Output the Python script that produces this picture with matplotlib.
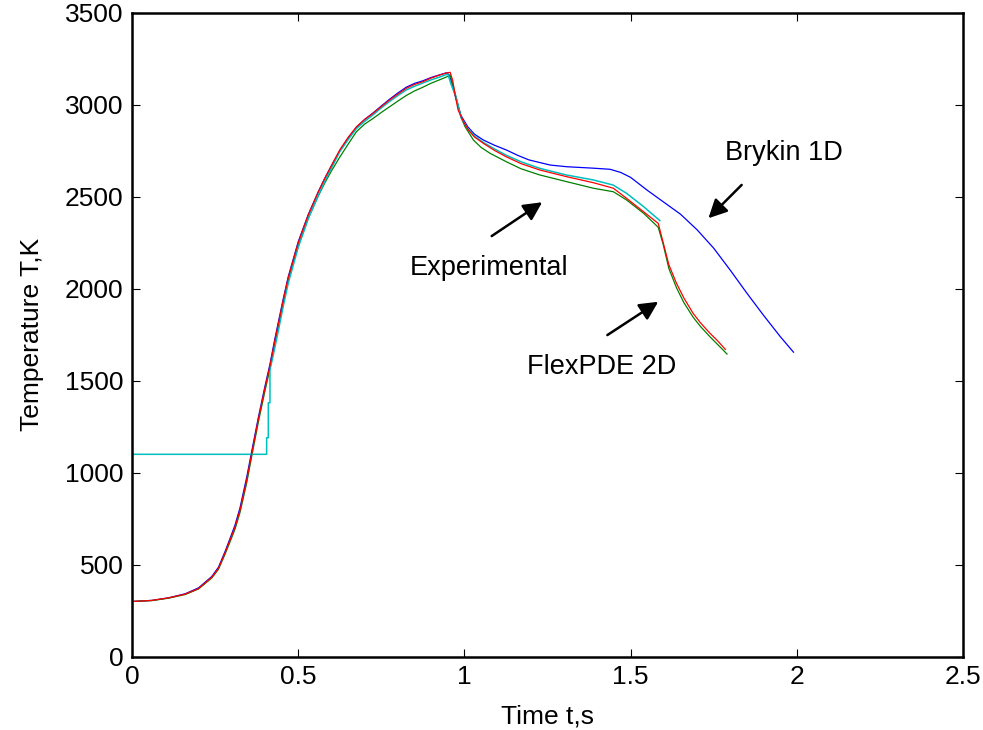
import matplotlib
matplotlib.use("Agg")
import matplotlib.pyplot as plt
import numpy as np

plt.rcParams['font.family'] = ['Liberation Sans', 'DejaVu Sans']

# ---- data ----
red_t = [0, 0.06, 0.11, 0.16, 0.20, 0.24, 0.26, 0.28, 0.295, 0.31, 0.325, 0.345, 0.36,
         0.38, 0.40, 0.415, 0.43, 0.455, 0.47, 0.50, 0.53, 0.56, 0.58, 0.60,
         0.625, 0.65, 0.675, 0.70, 0.725, 0.75, 0.775, 0.80, 0.825, 0.85, 0.875, 0.90,
         0.925, 0.945, 0.957, 0.965, 0.971, 0.981, 0.997, 1.012, 1.03, 1.057, 1.09, 1.126,
         1.17, 1.227, 1.307, 1.388, 1.448, 1.488, 1.539, 1.583, 1.598, 1.615, 1.638,
         1.66, 1.688, 1.71, 1.738, 1.76, 1.785]
red_T = [300, 306, 320, 340, 370, 432, 480, 565, 634, 705, 797, 960, 1102,
         1290, 1460, 1580, 1720, 1938, 2060, 2250, 2400, 2525, 2600, 2670,
         2754, 2822, 2880, 2920, 2953, 2990, 3026, 3058, 3089, 3110, 3125, 3145,
         3161, 3172, 3176, 3130, 3062, 2971, 2908, 2862, 2825, 2790, 2752, 2717,
         2680, 2645, 2609, 2576, 2546, 2491, 2418, 2355, 2250, 2130, 2029,
         1950, 1866, 1815, 1759, 1720, 1670]

blue_t = [0, 0.06, 0.11, 0.16, 0.20, 0.24, 0.26, 0.28, 0.295, 0.31, 0.325, 0.345, 0.36,
          0.38, 0.40, 0.415, 0.43, 0.455, 0.47, 0.50, 0.53, 0.56, 0.58, 0.60,
          0.625, 0.65, 0.675, 0.70, 0.725, 0.75, 0.775, 0.80, 0.825, 0.85, 0.875, 0.90,
          0.925, 0.947, 0.955, 0.965, 0.975, 0.99, 1.01, 1.03, 1.057, 1.09, 1.126, 1.16,
          1.194, 1.258, 1.307, 1.388, 1.438, 1.47, 1.50, 1.55, 1.60, 1.65, 1.70, 1.75,
          1.80, 1.85, 1.90, 1.95, 1.99]
blue_T = [300, 306, 320, 342, 374, 436, 486, 572, 643, 716, 810, 975, 1115,
          1300, 1470, 1590, 1730, 1945, 2065, 2255, 2402, 2525, 2600, 2668,
          2750, 2818, 2876, 2920, 2955, 2993, 3030, 3064, 3095, 3116, 3130, 3148,
          3162, 3174, 3160, 3100, 3030, 2940, 2880, 2840, 2808, 2780, 2754, 2725,
          2700, 2672, 2663, 2655, 2649, 2632, 2605, 2535, 2470, 2405, 2320, 2220,
          2100, 1975, 1855, 1740, 1655]

green_t = [0, 0.06, 0.11, 0.16, 0.20, 0.24, 0.26, 0.28, 0.295, 0.31, 0.325, 0.345, 0.36,
           0.38, 0.40, 0.415, 0.43, 0.455, 0.47, 0.50, 0.53, 0.56, 0.58, 0.60,
           0.625, 0.65, 0.675, 0.70, 0.725, 0.75, 0.775, 0.80, 0.825, 0.85, 0.875, 0.90,
           0.925, 0.945, 0.957, 0.965, 0.975, 0.99, 1.002, 1.027, 1.05, 1.077, 1.126, 1.17,
           1.227, 1.307, 1.388, 1.448, 1.488, 1.539, 1.583, 1.598, 1.615, 1.638, 1.66,
           1.688, 1.71, 1.738, 1.76, 1.79]
green_T = [300, 305, 318, 338, 368, 428, 475, 558, 625, 694, 785, 945, 1088,
           1275, 1445, 1565, 1705, 1922, 2045, 2232, 2382, 2503, 2575, 2640,
           2715, 2785, 2853, 2895, 2925, 2958, 2989, 3020, 3050, 3075, 3095, 3117,
           3135, 3150, 3160, 3110, 3040, 2930, 2880, 2808, 2768, 2736, 2690, 2652,
           2618, 2582, 2546, 2527, 2482, 2410, 2334, 2240, 2110, 2005, 1925,
           1845, 1795, 1740, 1700, 1645]

cyan_t = [0, 0.405, 0.405, 0.41, 0.41, 0.415, 0.415, 0.425, 0.44, 0.455, 0.47, 0.50,
          0.53, 0.56, 0.58, 0.60, 0.625, 0.65, 0.675, 0.70, 0.725, 0.75, 0.775,
          0.80, 0.825, 0.85, 0.875, 0.90, 0.925, 0.95, 0.96, 0.975, 0.99, 1.01, 1.03,
          1.057, 1.09, 1.126, 1.17, 1.227, 1.307, 1.388, 1.448, 1.488, 1.539, 1.588]
cyan_T = [1100, 1100, 1190, 1190, 1380, 1380, 1560, 1640, 1770, 1905, 2030, 2225,
          2380, 2505, 2585, 2655, 2745, 2810, 2870, 2910, 2945, 2983, 3018,
          3050, 3080, 3100, 3118, 3135, 3150, 3167, 3110, 3040, 2930, 2870, 2830,
          2795, 2760, 2725, 2690, 2654, 2618, 2591, 2563, 2518, 2446, 2370]

xticks = [0, 0.5, 1, 1.5, 2, 2.5]
xtick_labels = ['0', '0.5', '1', '1.5', '2', '2.5']
yticks = [0, 500, 1000, 1500, 2000, 2500, 3000, 3500]
ytick_labels = ['0', '500', '1000', '1500', '2000', '2500', '3000', '3500']

fig = plt.figure(figsize=(9.83, 7.30), dpi=100)
ax = fig.add_axes([0.1343, 0.1004, 0.9797 - 0.1343, 0.9826 - 0.1004])

lw = 0.9
ax.plot(blue_t, blue_T, color='#0000ff', lw=lw)
ax.plot(green_t, green_T, color='#008000', lw=lw)
ax.plot(cyan_t, cyan_T, color='#00bfbf', lw=1.1)
ax.plot(red_t, red_T, color='#ff0000', lw=lw)

ax.set_xlim(0, 2.5)
ax.set_ylim(0, 3500)
ax.set_xticks(xticks)
ax.set_xticklabels(xtick_labels)
ax.set_yticks(yticks)
ax.set_yticklabels(ytick_labels)
ax.tick_params(direction='in', length=6, width=0.8, labelsize=19, pad=6,
               top=True, right=True)
for s in ax.spines.values():
    s.set_linewidth(1.8)

ax.set_xlabel('Time t,s', fontsize=19, labelpad=11)
ax.set_ylabel('Temperature T,K', fontsize=19, labelpad=15)

arrow = dict(arrowstyle='-|>', lw=1.8, color='black', mutation_scale=28,
             shrinkA=0, shrinkB=0)
ax.annotate('', xy=(1.734, 2383), xytext=(1.834, 2564), arrowprops=arrow)
ax.text(1.785, 2736, 'Brykin 1D', fontsize=19.5, ha='left', va='center')
ax.annotate('', xy=(1.234, 2470), xytext=(1.082, 2286), arrowprops=arrow)
ax.text(0.837, 2111, 'Experimental', fontsize=19.5, ha='left', va='center')
ax.annotate('', xy=(1.583, 1929), xytext=(1.430, 1748), arrowprops=arrow)
ax.text(1.187, 1573, 'FlexPDE 2D', fontsize=19.5, ha='left', va='center')

fig.savefig('out.png', dpi=100)
